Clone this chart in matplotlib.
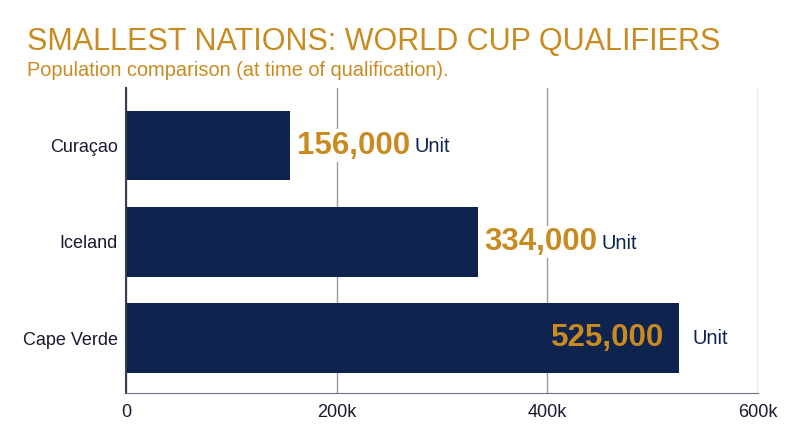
import matplotlib.pyplot as plt

plt.rcParams['font.family'] = ['Liberation Sans', 'DejaVu Sans']

countries = ["Curaçao", "Iceland", "Cape Verde"]
population = [156000, 334000, 525000]
value_labels = ["156,000", "334,000", "525,000"]
tick_values = [0, 200000, 400000, 600000]
tick_labels = ["0", "200k", "400k", "600k"]

navy = '#0f234f'
gold = '#c98b20'

fig = plt.figure(figsize=(8, 4.47), dpi=100)
ax = fig.add_axes([0.1575, 0.1208, 0.79, 0.682])

ypos = list(range(len(countries)))
ax.barh(ypos, population, height=0.725, color=navy, zorder=2)

ax.set_xlim(0, 600000)
ax.set_ylim(2.57, -0.596)
ax.set_yticks(ypos)
ax.set_yticklabels(countries, fontsize=13, color='#1a1a2e')
ax.set_xticks(tick_values)
ax.set_xticklabels(tick_labels, fontsize=13, color='#1a1a2e')
ax.tick_params(length=0, pad=8)
ax.tick_params(axis='y', pad=6)

ax.grid(axis='x', color='#9a9a9a', linewidth=1, zorder=0)
ax.spines['top'].set_visible(False)
ax.spines['right'].set_visible(False)
ax.spines['left'].set_color('#3a3f4f')
ax.spines['left'].set_linewidth(1.5)
ax.spines['bottom'].set_color('#6a7080')
ax.spines['bottom'].set_zorder(3)

for i, (v, lab) in enumerate(zip(population, value_labels)):
    if v > 450000:
        ax.text(v - 14000, i, lab, ha='right', va='center', fontsize=22.5,
                fontweight='bold', color=gold, zorder=4)
        ax.text(v + 12500, i, "Unit", ha='left', va='center', fontsize=14.5,
                color=navy, zorder=4)
    else:
        t = ax.annotate(lab, (v, i), xytext=(5, 0), textcoords='offset points',
                        ha='left', va='center', fontsize=22.5, fontweight='bold',
                        color=gold, zorder=4,
                        bbox=dict(facecolor='white', edgecolor='none', pad=1))
        ax.annotate("Unit", xy=(1, 0.5), xycoords=t, xytext=(3, -1),
                    textcoords='offset points', ha='left', va='center',
                    fontsize=14.5, color=navy, zorder=4)

fig.text(0.034, 0.888, "SMALLEST NATIONS: WORLD CUP QUALIFIERS", fontsize=22,
         color=gold, ha='left', va='baseline')
fig.text(0.034, 0.83, "Population comparison (at time of qualification).",
         fontsize=14.4, color=gold, ha='left', va='baseline')

fig.savefig('out.png', dpi=100)
